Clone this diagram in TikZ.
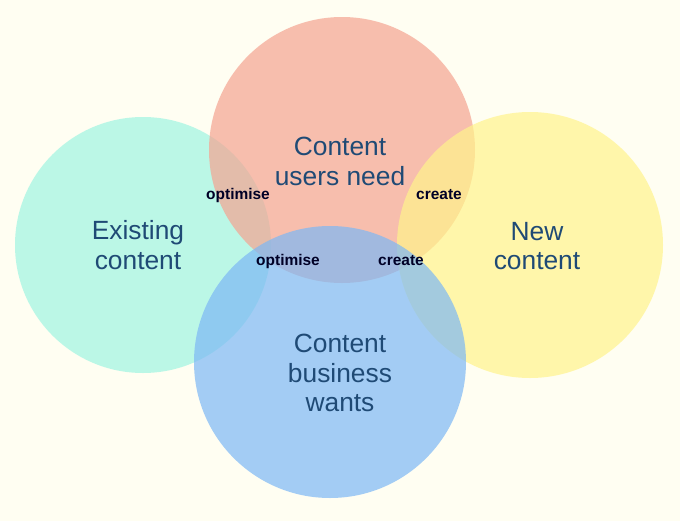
\documentclass[tikz,border=0pt]{standalone}
\usepackage{fontspec}
\setmainfont{Liberation Sans}
\usepackage{xcolor}
\definecolor{bgcream}{HTML}{FFFEF2}
\definecolor{txtblue}{HTML}{1F4A75}
\definecolor{cyanc}{HTML}{9FF5E2}
\definecolor{redc}{HTML}{F4A391}
\definecolor{yellowc}{HTML}{FFF48C}
\definecolor{bluec}{HTML}{7DB8F5}
\begin{document}
\begin{tikzpicture}[x=0.02cm, y=-0.02cm,
    every node/.style={font=\fontsize{15}{17}\selectfont, text=txtblue, align=center},
    set/.style={circle, fill opacity=0.7, inner sep=0pt},
    tag/.style={font=\fontsize{8.8}{10}\selectfont\bfseries, text=black!85!blue}]
    % background
    \fill[bgcream] (0,0) rectangle (680,521);
    % Sets
    \node[set, fill=cyanc, minimum size=256*0.02cm] (existing) at (143,245) {};
    \node[set, fill=redc, minimum size=266*0.02cm] (users) at (342,150) {};
    \node[set, fill=yellowc, minimum size=266*0.02cm] (new) at (530,245) {};
    \node[set, fill=bluec, minimum size=272*0.02cm] (business) at (330,362) {};
    % Labels
    \node (existingtxt) at (138,245) {Existing\\content};
    \node (userstxt) at (340,161) {Content\\users need};
    \node (newtxt) at (537,246) {New\\content};
    \node (businesstxt) at (340,373) {Content\\business\\wants};
    % Overlaps
    \node[tag] (opt1) at (238,195) {optimise};
    \node[tag] (cre1) at (439,195) {create};
    \node[tag] (opt2) at (288,261) {optimise};
    \node[tag] (cre2) at (401,261) {create};
\end{tikzpicture}
\end{document}
